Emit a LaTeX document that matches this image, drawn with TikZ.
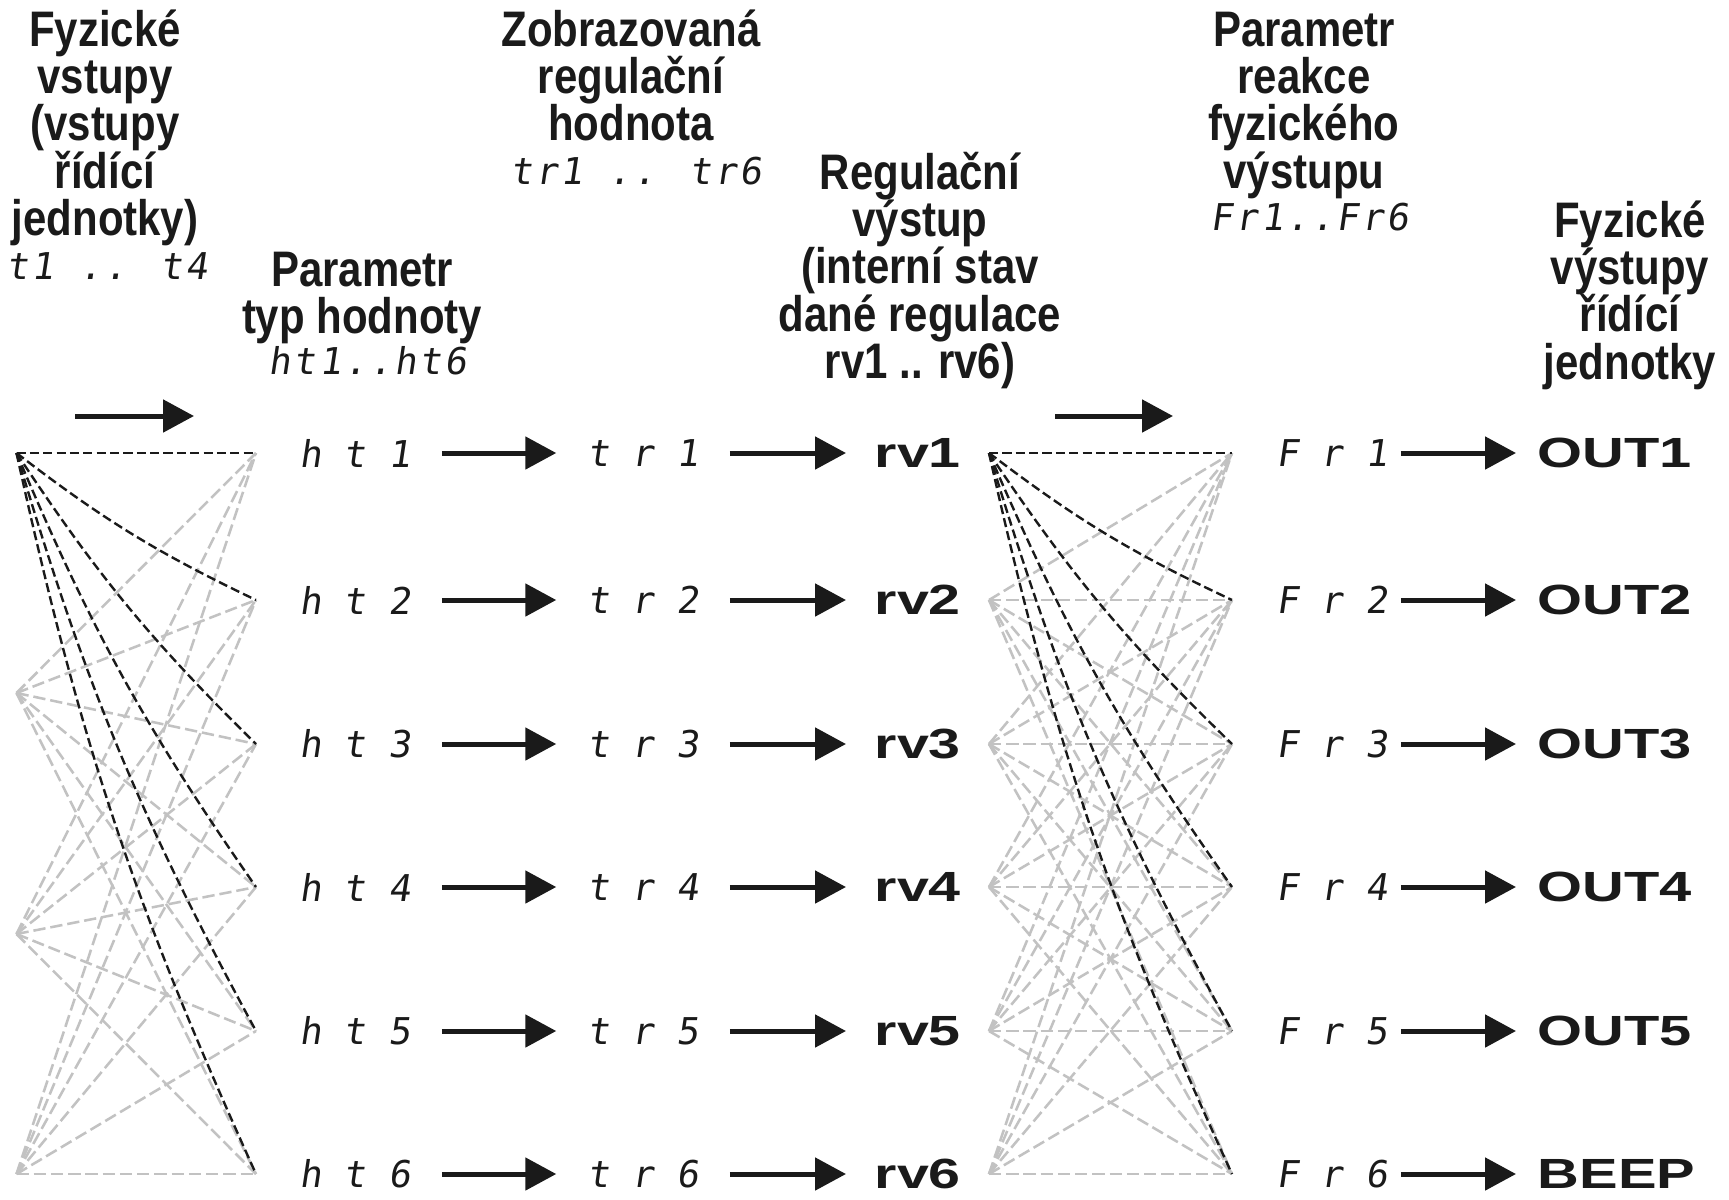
\documentclass[tikz,border=0pt]{standalone}
\usepackage{fontspec}
\setmainfont{Liberation Sans}
\newfontfamily\hdrfont[FakeStretch=0.84]{Liberation Sans}
\newfontfamily\rvfont[FakeStretch=1.36]{Liberation Sans}
\newfontfamily\outfont[FakeStretch=1.37]{Liberation Sans}
\newfontfamily\segfont[FakeSlant=0.15,LetterSpace=60]{DejaVu Sans Mono}
\newfontfamily\seghfont[FakeSlant=0.15,LetterSpace=8]{DejaVu Sans Mono}
\usetikzlibrary{arrows.meta}
\definecolor{lgray}{HTML}{C2C2C2}
\definecolor{dk}{HTML}{1A1A1A}
\tikzset{
  hdr/.style={font=\hdrfont\bfseries\fontsize{14.2}{13.5}\selectfont, inner sep=0pt, anchor=base, text=dk},
  seg/.style={font=\segfont\fontsize{10.5}{12}\selectfont, inner sep=0pt, text=dk},
  segh/.style={font=\seghfont\fontsize{10.5}{12}\selectfont, inner sep=0pt, text=dk},
  rvl/.style={font=\rvfont\bfseries\fontsize{12}{14}\selectfont, inner ysep=0pt, inner xsep=0.28cm, anchor=west, text=dk},
  outl/.style={font=\outfont\bfseries\fontsize{12}{14}\selectfont, inner ysep=0pt, inner xsep=0.21cm, anchor=west, text=dk},
  arr/.style={draw=dk, line width=1.42pt, -{Triangle[length=8.8pt,width=9.1pt]}},
  grayd/.style={draw=lgray, line width=0.72pt, dash pattern=on 3.5pt off 1.4pt},
  blackd/.style={draw=dk, line width=0.68pt, dash pattern=on 2.6pt off 1.2pt}
}
\begin{document}
\begin{tikzpicture}[x=0.01cm,y=-0.01cm]
\useasboundingbox (0,0) rectangle (1729,1199);
\fill[white] (0,0) rectangle (1729,1199);

% ---------- headers ----------
\node[hdr] (hA1) at (105,46) {Fyzické};
\node[hdr] (hA2) at (105,93.4) {vstupy};
\node[hdr] (hA3) at (105,140.8) {(vstupy};
\node[hdr] (hA4) at (105,188.2) {řídící};
\node[hdr] (hA5) at (105,235.6) {jednotky)};
\node[segh] (sA) at (107,266) {t1 .. t4};

\node[hdr] (hB1) at (362,286) {Parametr};
\node[hdr] (hB2) at (362,333.4) {typ hodnoty};
\node[segh] (sB) at (368,361) {ht1..ht6};

\node[hdr] (hC1) at (631,46) {Zobrazovaná};
\node[hdr] (hC2) at (631,93.4) {regulační};
\node[hdr] (hC3) at (631,140.8) {hodnota};
\node[segh] (sC) at (636,171) {tr1 .. tr6};

\node[hdr] (hD1) at (920,189) {Regulační};
\node[hdr] (hD2) at (920,236.4) {výstup};
\node[hdr] (hD3) at (920,283.8) {(interní stav};
\node[hdr] (hD4) at (920,331.2) {dané regulace};
\node[hdr] (hD5) at (920,378.6) {rv1 .. rv6)};

\node[hdr] (hE1) at (1304,46) {Parametr};
\node[hdr] (hE2) at (1304,93.4) {reakce};
\node[hdr] (hE3) at (1304,140.8) {fyzického};
\node[hdr] (hE4) at (1304,188.2) {výstupu};
\node[segh] (sE) at (1310,217) {Fr1..Fr6};

\node[hdr] (hF1) at (1630,237) {Fyzické};
\node[hdr] (hF2) at (1630,284.4) {výstupy};
\node[hdr] (hF3) at (1630,331.8) {řídící};
\node[hdr] (hF4) at (1630,379.2) {jednotky};

% header arrows
\coordinate (ha1s) at (75,416);
\coordinate (ha1e) at (194,416);
\coordinate (ha2s) at (1055,416);
\coordinate (ha2e) at (1173,416);
\draw[arr] (ha1s) -- (ha1e);
\draw[arr] (ha2s) -- (ha2e);

% ---------- vertices ----------
\coordinate (A1) at (16.5,453);
\coordinate (A2) at (16.5,693);
\coordinate (A3) at (16.5,934);
\coordinate (A4) at (16.5,1174);
\foreach \j/\y in {1/453,2/600,3/744,4/887,5/1031,6/1174}{
  \coordinate (B\j) at (256,\y);
  \coordinate (C\j) at (989,\y);
  \coordinate (D\j) at (1232,\y);
}

% gray dashed connections
\foreach \i in {2,3,4}{
  \foreach \j in {1,...,6}{
    \draw[grayd] (A\i) -- (B\j);
  }
}
\foreach \i in {2,...,6}{
  \foreach \j in {1,...,6}{
    \draw[grayd] (C\i) -- (D\j);
  }
}
% black dashed connections
\draw[blackd] (A1) -- (B1);
\draw[blackd] (C1) -- (D1);
\foreach \j in {2,...,6}{
  \draw[blackd] (A1) to[bend right=6] (B\j);
  \draw[blackd] (C1) to[bend right=6] (D\j);
}

% ---------- rows ----------
\foreach \j/\y/\last in {1/453/OUT1,2/600/OUT2,3/744/OUT3,4/887/OUT4,5/1031/OUT5,6/1174/BEEP}{
  \node[seg, minimum width=1.72cm] (ht\j) at (355,\y) {ht\j};
  \node[seg, minimum width=1.72cm] (tr\j) at (643,\y) {tr\j};
  \node[rvl] (rv\j) at (846,\y) {rv\j};
  \node[seg, minimum width=1.36cm] (Fr\j) at (1332,\y) {Fr\j};
  \node[outl] (out\j) at (1516,\y) {\last};
  \draw[arr] (ht\j.east) -- (tr\j.west);
  \draw[arr] (tr\j.east) -- (rv\j.west);
  \draw[arr] (Fr\j.east) -- (out\j.west);
}
\end{tikzpicture}
\end{document}
